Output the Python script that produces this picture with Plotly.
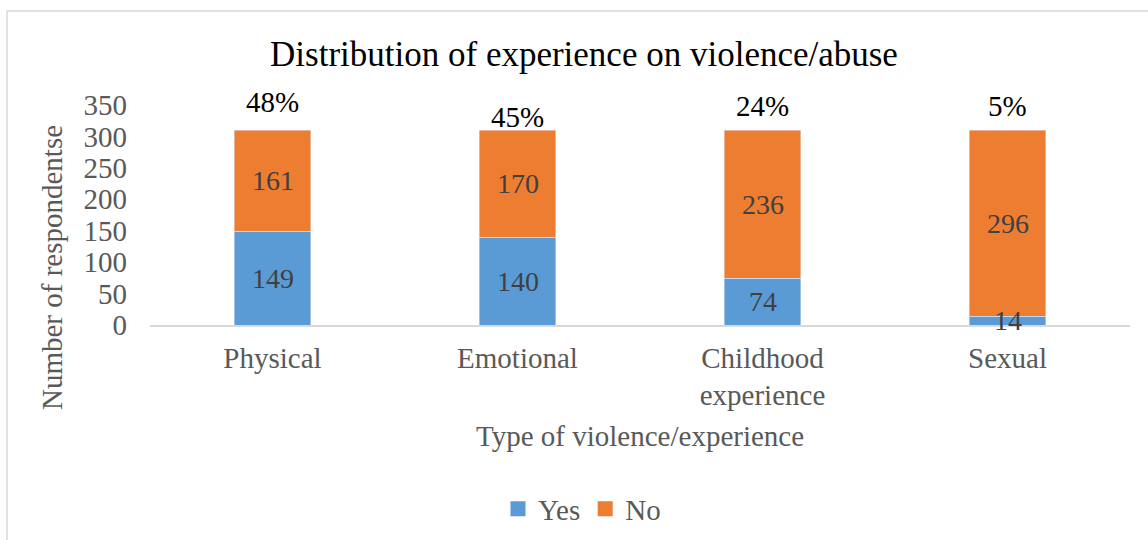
import plotly.graph_objects as go

# Survey counts per type of violence / abuse experience
categories = ["Physical", "Emotional", "Childhood<br>experience", "Sexual"]
yes_counts = [149, 140, 74, 14]
no_counts = [161, 170, 236, 296]
y_ticks = [0, 50, 100, 150, 200, 250, 300, 350]

# Vertical placement (in axis units) of the share-of-"Yes" labels above each bar
pct_label_y = [355, 331, 349, 349]

BLUE = "#5B9BD5"
ORANGE = "#ED7D31"
FONT = "Liberation Serif, Times New Roman, serif"
GREY = "#595959"
Y_MAX = 350

W, H = 1148, 540
L, R, T, B = 150, 18, 105, 215
PW, PH = W - L - R, H - T - B


def px_x(p):
    return (p - L) / PW


def px_y(p):
    return (H - B - p) / PH


fig = go.Figure()

fig.add_trace(go.Bar(
    x=categories, y=yes_counts, name="Yes", marker_color=BLUE,
    showlegend=False, hoverinfo="x+y+name",
))
fig.add_trace(go.Bar(
    x=categories, y=no_counts, name="No", marker_color=ORANGE,
    showlegend=False, hoverinfo="x+y+name",
))

# Legend entries with square swatches
for name, color in (("Yes", BLUE), ("No", ORANGE)):
    fig.add_trace(go.Scatter(
        x=[None], y=[None], mode="markers", name=name,
        marker=dict(symbol="square", size=15, color=color),
    ))

annotations = []

# Segment values, centred in each stacked segment
for cat, yv, nv in zip(categories, yes_counts, no_counts):
    for val, mid in ((yv, yv / 2), (nv, yv + nv / 2)):
        annotations.append(dict(
            x=cat, y=mid, xref="x", yref="y", text=str(val), showarrow=False,
            xanchor="center", yanchor="middle",
            font=dict(family=FONT, size=28, color="#404040"),
        ))

# Percentage of respondents answering "Yes" above each bar
for cat, yv, nv, ly in zip(categories, yes_counts, no_counts, pct_label_y):
    pct = round(100 * yv / (yv + nv))
    annotations.append(dict(
        x=cat, y=ly / Y_MAX, xref="x", yref="paper", text=f"{pct}%",
        showarrow=False, xanchor="center", yanchor="middle",
        font=dict(family=FONT, size=29, color="#000000"),
    ))

# Axis titles
annotations.append(dict(
    x=0.5, y=px_y(436), xref="paper", yref="paper",
    text="Type of violence/experience", showarrow=False,
    xanchor="center", yanchor="middle",
    font=dict(family=FONT, size=29, color=GREY),
))
annotations.append(dict(
    x=px_x(52), y=px_y(268), xref="paper", yref="paper",
    text="Number of respondentse", showarrow=False, textangle=-90,
    xanchor="center", yanchor="middle",
    font=dict(family=FONT, size=29, color=GREY),
))

fig.update_layout(
    width=W, height=H,
    margin=dict(l=L, r=R, t=T, b=B, autoexpand=False),
    paper_bgcolor="white", plot_bgcolor="white",
    barmode="stack", bargap=0.686,
    title=dict(
        text="Distribution of experience on violence/abuse",
        x=584 / W, xref="container", xanchor="center",
        y=1 - 54 / H, yref="container", yanchor="middle",
        font=dict(family=FONT, size=35, color="#000000"),
    ),
    xaxis=dict(
        showgrid=False, showline=True, linecolor="#D9D9D9", linewidth=1.5,
        ticks="", tickfont=dict(family=FONT, size=29, color=GREY),
        ticklabelstandoff=6, zeroline=False, layer="below traces",
    ),
    yaxis=dict(
        range=[0, Y_MAX], tickvals=y_ticks, showgrid=False, zeroline=False,
        showline=False, ticks="", ticklabelstandoff=22,
        tickfont=dict(family=FONT, size=29, color=GREY),
    ),
    legend=dict(
        orientation="h", x=px_x(582), y=px_y(509), xanchor="center",
        yanchor="middle", font=dict(family=FONT, size=29, color=GREY),
        bgcolor="rgba(0,0,0,0)", itemclick=False, traceorder="normal",
    ),
    annotations=annotations,
    shapes=[dict(
        type="rect", xref="paper", yref="paper",
        x0=px_x(7), x1=px_x(1170), y0=px_y(560), y1=px_y(11),
        line=dict(color="#D9D9D9", width=1.5), fillcolor="rgba(0,0,0,0)",
        layer="below",
    )],
)

fig.write_html("out.html")
